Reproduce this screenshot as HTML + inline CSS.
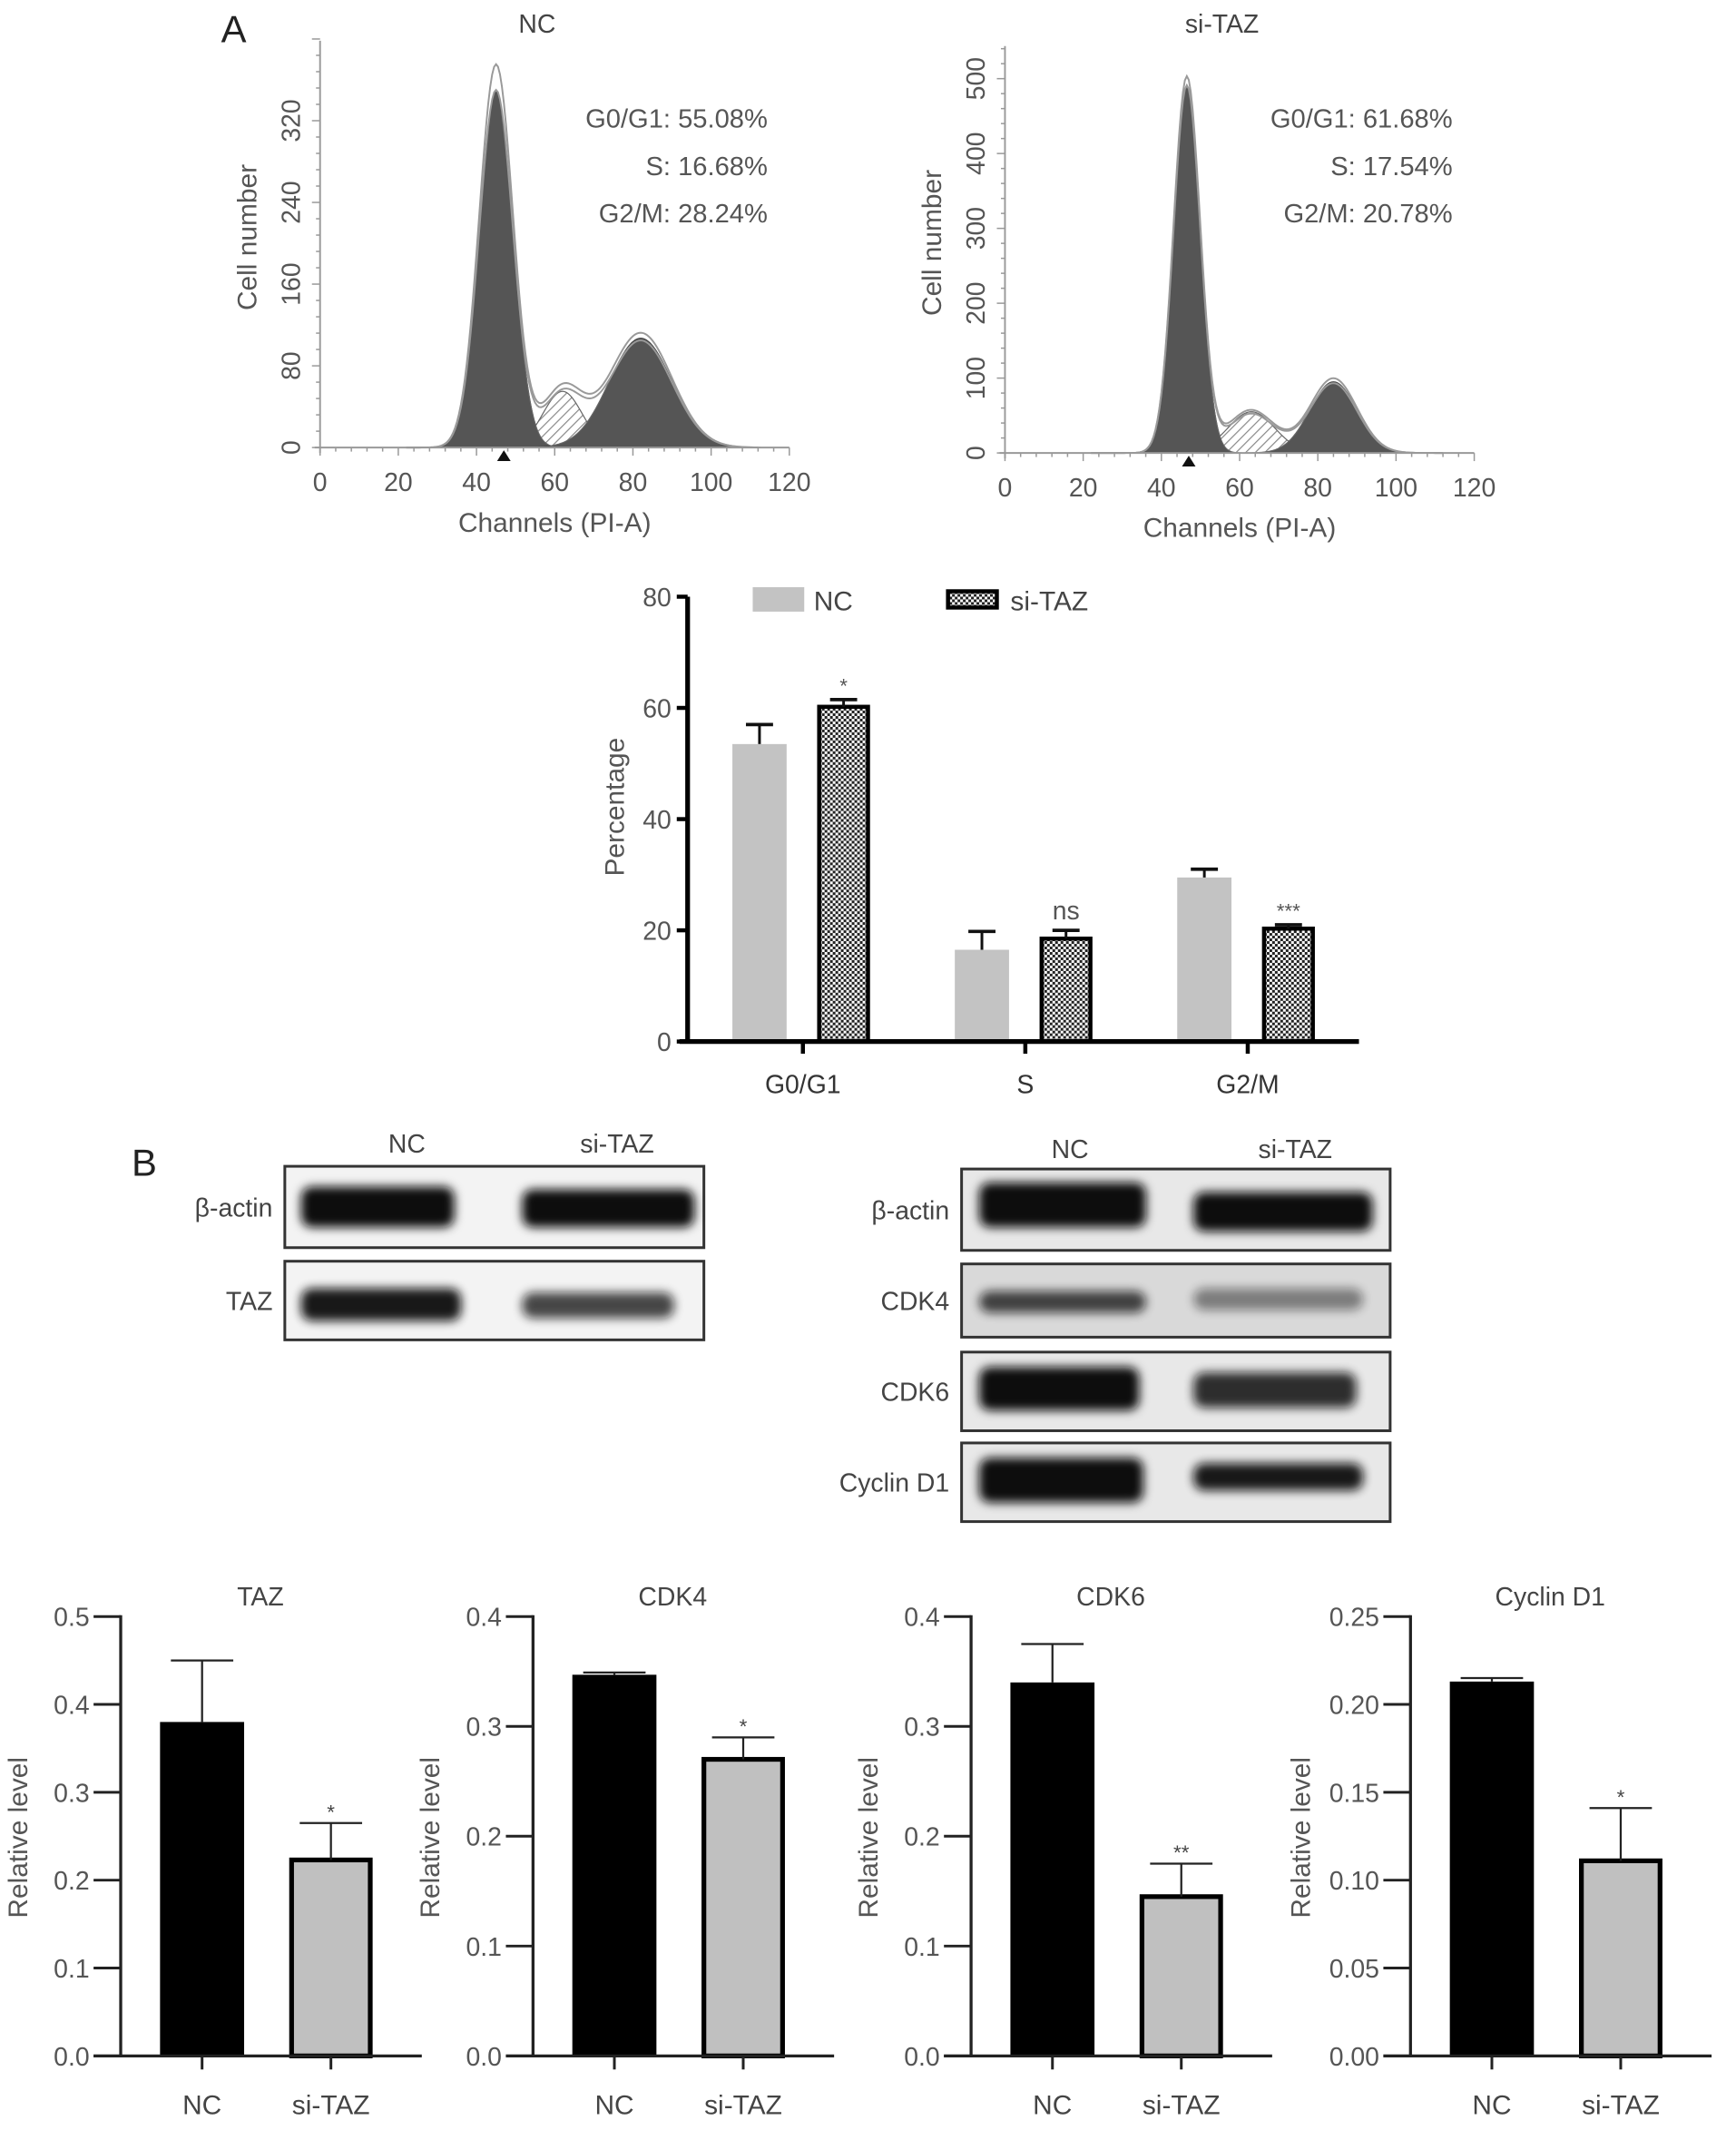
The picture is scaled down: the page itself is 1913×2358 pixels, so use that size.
<!DOCTYPE html>
<html><head><meta charset="utf-8">
<style>
html,body{margin:0;padding:0;background:#fff;}
svg{display:block;font-family:"Liberation Sans",sans-serif;}
</style></head>
<body>
<svg id="fig" width="1913" height="2358" viewBox="0 0 1280 1578" preserveAspectRatio="none" xmlns="http://www.w3.org/2000/svg">
<defs>
<pattern id="hatch" patternUnits="userSpaceOnUse" width="5" height="5" patternTransform="rotate(45)">
<rect width="5" height="5" fill="#fff"/><line x1="0" y1="0" x2="0" y2="5" stroke="#888" stroke-width="1.6"/></pattern>
<pattern id="check" patternUnits="userSpaceOnUse" width="4" height="4">
<rect width="4" height="4" fill="#fff"/><rect width="2" height="2" fill="#222"/><rect x="2" y="2" width="2" height="2" fill="#222"/></pattern>
<filter id="blur" x="-20%" y="-50%" width="140%" height="200%"><feGaussianBlur stdDeviation="3.5"/></filter>
</defs>
<text x="163" y="31" font-size="28" fill="#222">A</text>
<text x="97" y="867" font-size="28" fill="#222">B</text>
<g id="g"></g>
</svg>
<script>
// ---------- Histogram data ----------
const histNames = ['NC', 'si-TAZ'];
const histG1 = [[45, 350, 4.3], [46.5, 490, 3.4]];   // center, height, sigma
const histS = [[62, 55, 5.0], [63, 55, 6.0]];
const histG2 = [[82, 107, 8.0], [84, 95, 6.0]];
const histEnvPeak = [375, 502];
const histYTicks = [[0, 80, 160, 240, 320], [0, 100, 200, 300, 400, 500]];
const histYMax = [400, 540];
const histTexts = [['G0/G1: 55.08%', 'S: 16.68%', 'G2/M: 28.24%'], ['G0/G1: 61.68%', 'S: 17.54%', 'G2/M: 20.78%']];
const histXTicks = [0, 20, 40, 60, 80, 100, 120];

// ---------- Cell cycle bar chart ----------
const phases = ['G0/G1', 'S', 'G2/M'];
const ncPct = [53.5, 16.5, 29.5];
const ncErr = [3.5, 3.3, 1.5];
const siPct = [60.2, 18.5, 20.3];
const siErr = [1.3, 1.5, 0.7];
const sigPct = ['*', 'ns', '***'];
const pctTicks = [0, 20, 40, 60, 80];

// ---------- Relative level charts ----------
const relTitles = ['TAZ', 'CDK4', 'CDK6', 'Cyclin D1'];
const relNC = [0.38, 0.347, 0.34, 0.213];
const relNCErr = [0.07, 0.002, 0.035, 0.002];
const relSi = [0.223, 0.27, 0.145, 0.111];
const relSiErr = [0.042, 0.02, 0.03, 0.03];
const relSig = ['*', '*', '**', '*'];
const relMax = [0.5, 0.4, 0.4, 0.25];
const relTicks = [[0, 0.1, 0.2, 0.3, 0.4, 0.5], [0, 0.1, 0.2, 0.3, 0.4], [0, 0.1, 0.2, 0.3, 0.4], [0, 0.05, 0.1, 0.15, 0.2, 0.25]];
const relTickLabels = [['0.0','0.1','0.2','0.3','0.4','0.5'], ['0.0','0.1','0.2','0.3','0.4'], ['0.0','0.1','0.2','0.3','0.4'], ['0.00','0.05','0.10','0.15','0.20','0.25']];

const NS = 'http://www.w3.org/2000/svg';
const root = document.getElementById('g');
function el(tag, attrs, parent, text) {
  const e = document.createElementNS(NS, tag);
  for (const k in attrs) e.setAttribute(k, attrs[k]);
  if (text !== undefined) e.textContent = text;
  (parent || root).appendChild(e);
  return e;
}
function gauss(x, p) { return p[1] * Math.exp(-0.5 * Math.pow((x - p[0]) / p[2], 2)); }

// ---------- Histograms ----------
const histLayout = [{x0: 236, y0: 330, top: 30, yTop: 89, yTopVal: 320}, {x0: 741, y0: 334, top: 34, yTop: 58, yTopVal: 500}];
histNames.forEach((nm, i) => {
  const L = histLayout[i];
  const g = el('g', {});
  
  
  const sx = v => L.x0 + v * (346 / 120);
  const sy = v => L.y0 - v * ((L.y0 - L.yTop) / L.yTopVal);
  function areaPath(fn, a, b) {
    let d = 'M' + sx(a) + ',' + sy(0);
    for (let x = a; x <= b; x += 0.25) d += ' L' + sx(x).toFixed(2) + ',' + sy(fn(x)).toFixed(2);
    return d + ' L' + sx(b) + ',' + sy(0) + ' Z';
  }
  const fG1 = x => gauss(x, histG1[i]), fS = x => gauss(x, histS[i]), fG2 = x => gauss(x, histG2[i]);
  const a1 = el('path', {d: areaPath(fG1, 25, 70), fill: '#555', stroke: '#444', 'stroke-width': 0.8}, g);
   
  const a2 = el('path', {d: areaPath(fG2, 55, 115), fill: '#555', stroke: '#444', 'stroke-width': 0.8}, g);
   
  let dS = 'M' + sx(50) + ',' + sy(Math.max(fG1(50), fG2(50)));
  for (let x = 50; x <= 78; x += 0.25) dS += ' L' + sx(x).toFixed(2) + ',' + sy(Math.max(fS(x), fG1(x), fG2(x))).toFixed(2);
  for (let x = 78; x >= 50; x -= 0.25) dS += ' L' + sx(x).toFixed(2) + ',' + sy(Math.max(fG1(x), fG2(x))).toFixed(2);
  dS += ' Z';
  const aS = el('path', {d: dS, fill: 'url(#hatch)', stroke: '#666', 'stroke-width': 0.8}, g);
   
  const env = (x, k) => fG1(x) * (k === 0 ? histEnvPeak[i] / histG1[i][1] : 1) + fS(x) * 0.9 + fG2(x) * (k === 0 ? 1.05 : 0.98) + (k === 0 ? 8 : 3) * Math.exp(-0.5 * Math.pow((x - 62) / 6, 2));
  [0, 1].forEach(k => {
    let d = '';
    for (let x = 22; x <= 112; x += 0.5) d += (d ? ' L' : 'M') + sx(x).toFixed(2) + ',' + sy(env(x, k)).toFixed(2);
    const p = el('path', {d: d, fill: 'none', stroke: '#999', 'stroke-width': 1.3}, g);
     
  });
  const ax = el('line', {x1: L.x0, y1: L.top, x2: L.x0, y2: L.y0 + 4, stroke: '#999', 'stroke-width': 1.3}, g);
   
  const axx = el('line', {x1: L.x0 - 4, y1: L.y0, x2: sx(120), y2: L.y0, stroke: '#999', 'stroke-width': 1.3}, g);
   
  for (let v = 0; v <= 120; v += 4) el('line', {x1: sx(v), y1: L.y0, x2: sx(v), y2: L.y0 + (v % 20 === 0 ? 6 : 3), stroke: '#999', 'stroke-width': 1}, g);
  const step = histYTicks[i][1] / 5;
  for (let v = 0; v <= histYMax[i]; v += step) el('line', {x1: L.x0 - ((v % histYTicks[i][1]) === 0 ? 6 : 3), y1: sy(v), x2: L.x0, y2: sy(v), stroke: '#999', 'stroke-width': 1}, g);
  histXTicks.forEach(v => {
    const t = el('text', {x: sx(v), y: L.y0 + 32, 'font-size': 19, fill: '#555', 'text-anchor': 'middle'}, g, String(v));
     
  });
  histYTicks[i].forEach(v => {
    const t = el('text', {x: 0, y: 0, 'font-size': 19, fill: '#555', 'text-anchor': 'middle', transform: 'translate(' + (L.x0 - 15) + ',' + sy(v) + ') rotate(-90)'}, g, String(v));
     
  });
  el('polygon', {points: (sx(47) - 5) + ',' + (L.y0 + 10) + ' ' + (sx(47) + 5) + ',' + (L.y0 + 10) + ' ' + sx(47) + ',' + (L.y0 + 2), fill: '#111'}, g);
  const tt = el('text', {x: L.x0 + 160, y: 24, 'font-size': 19, fill: '#444', 'text-anchor': 'middle'}, g, nm);
   
  const xl = el('text', {x: sx(60), y: L.y0 + 62, 'font-size': 20, fill: '#555', 'text-anchor': 'middle'}, g, 'Channels (PI-A)');
   
  const yl = el('text', {x: 0, y: 0, 'font-size': 20, fill: '#555', 'text-anchor': 'middle', transform: 'translate(' + (L.x0 - 47) + ',' + (L.y0 - 155) + ') rotate(-90)'}, g, 'Cell number');
   
  histTexts[i].forEach((s, j) => {
    const t = el('text', {x: L.x0 + 330, y: 94 + j * 35, 'font-size': 19.5, fill: '#555', 'text-anchor': 'end'}, g, s);
     
  });
});

// ---------- Percentage bar chart ----------
(function () {
  const g = el('g', {});
   
  const X0 = 507, Y0 = 768, k = (768 - 440) / 80;
  const sy = v => Y0 - v * k;
  const catX = i => 592 + i * 164;
  phases.forEach((ph, i) => {
    const c = catX(i);
    const nx = c - 52, ncx = nx + 20;
    const b1 = el('rect', {x: nx, y: sy(ncPct[i]), width: 40, height: Y0 - sy(ncPct[i]), fill: '#c3c3c3'}, g);
     
    el('line', {x1: ncx, y1: sy(ncPct[i]), x2: ncx, y2: sy(ncPct[i] + ncErr[i]), stroke: '#111', 'stroke-width': 2}, g);
    el('line', {x1: ncx - 10, y1: sy(ncPct[i] + ncErr[i]), x2: ncx + 10, y2: sy(ncPct[i] + ncErr[i]), stroke: '#111', 'stroke-width': 2.5}, g);
    const sxs = c + 12, scx = sxs + 18;
    const b2 = el('rect', {x: sxs, y: sy(siPct[i]), width: 36, height: Y0 - sy(siPct[i]), fill: 'url(#check)', stroke: '#000', 'stroke-width': 3}, g);
     
    el('line', {x1: scx, y1: sy(siPct[i]), x2: scx, y2: sy(siPct[i] + siErr[i]), stroke: '#111', 'stroke-width': 2}, g);
    el('line', {x1: scx - 10, y1: sy(siPct[i] + siErr[i]), x2: scx + 10, y2: sy(siPct[i] + siErr[i]), stroke: '#111', 'stroke-width': 2.5}, g);
    const st = el('text', {x: scx, y: sy(siPct[i] + siErr[i]) - (sigPct[i] === 'ns' ? 8 : 5), 'font-size': sigPct[i] === 'ns' ? 19 : 15, fill: '#555', 'text-anchor': 'middle'}, g, sigPct[i]);
     
    el('line', {x1: c, y1: Y0, x2: c, y2: Y0 + 9, stroke: '#000', 'stroke-width': 3}, g);
    const lb = el('text', {x: c, y: Y0 + 38, 'font-size': 19, fill: '#333', 'text-anchor': 'middle'}, g, ph);
     
  });
  const ya = el('line', {x1: X0, y1: 440, x2: X0, y2: Y0 + 1.5, stroke: '#000', 'stroke-width': 3.5}, g);
   
  const xa = el('line', {x1: X0 - 6, y1: Y0, x2: 1002, y2: Y0, stroke: '#000', 'stroke-width': 3.5}, g);
   
  pctTicks.forEach(v => {
    el('line', {x1: X0 - 8, y1: sy(v), x2: X0, y2: sy(v), stroke: '#000', 'stroke-width': 3}, g);
    const t = el('text', {x: X0 - 12, y: sy(v) + 7, 'font-size': 19, fill: '#555', 'text-anchor': 'end'}, g, String(v));
     
  });
  const yl = el('text', {x: 0, y: 0, 'font-size': 20, fill: '#555', 'text-anchor': 'middle', transform: 'translate(460,595) rotate(-90)'}, g, 'Percentage');
   
  const l1 = el('rect', {x: 555, y: 433, width: 38, height: 18, fill: '#c3c3c3'}, g);
   
  const t1 = el('text', {x: 600, y: 450, 'font-size': 20, fill: '#444'}, g, 'NC');
   
  const l2 = el('rect', {x: 699, y: 436, width: 36, height: 12, fill: 'url(#check)', stroke: '#000', 'stroke-width': 3}, g);
   
  const t2 = el('text', {x: 745, y: 450, 'font-size': 20, fill: '#444'}, g, 'si-TAZ');
   
})();

// ---------- Western blots ----------
const blots = [
  {x: 210, w: 309, label: 'β-actin', y: 860, h: 60, bg: '#f3f3f3', bands: [[222, 335, 875, 905, 1], [385, 512, 877, 905, 1]]},
  {x: 210, w: 309, label: 'TAZ', y: 930, h: 58, bg: '#f3f3f3', bands: [[222, 340, 950, 974, 0.95], [385, 497, 953, 972, 0.75]]},
  {x: 709, w: 316, label: 'β-actin', y: 862, h: 60, bg: '#e8e8e8', bands: [[722, 845, 872, 905, 1], [880, 1012, 879, 908, 1]]},
  {x: 709, w: 316, label: 'CDK4', y: 932, h: 54, bg: '#d9d9d9', bands: [[722, 845, 952, 968, 0.75], [880, 1005, 950, 966, 0.45]]},
  {x: 709, w: 316, label: 'CDK6', y: 997, h: 58, bg: '#e8e8e8', bands: [[722, 840, 1008, 1040, 1], [880, 1000, 1012, 1038, 0.85]]},
  {x: 709, w: 316, label: 'Cyclin D1', y: 1064, h: 58, bg: '#e8e8e8', bands: [[722, 843, 1075, 1108, 1], [880, 1005, 1079, 1099, 0.95]]}
];
blots.forEach(b => {
  const g = el('g', {});
  
  
  el('rect', {x: b.x, y: b.y, width: b.w, height: b.h, fill: b.bg, stroke: '#333', 'stroke-width': 2}, g);
  b.bands.forEach(d => {
    const r = el('rect', {x: d[0], y: d[2], width: d[1] - d[0], height: d[3] - d[2], rx: 8, fill: '#111', opacity: d[4], filter: 'url(#blur)'}, g);
     
  });
  const t = el('text', {x: b.x - 9, y: b.y + b.h / 2 + 7, 'font-size': 19, fill: '#444', 'text-anchor': 'end'}, g, b.label);
   
});
[[300, 850, 'NC'], [455, 850, 'si-TAZ'], [789, 854, 'NC'], [955, 854, 'si-TAZ']].forEach(h => {
  const t = el('text', {x: h[0], y: h[1], 'font-size': 19, fill: '#444', 'text-anchor': 'middle'}, root, h[2]);
   
});

// ---------- Relative level charts ----------
const relAxisX = [89, 393, 716, 1040];
relTitles.forEach((title, i) => {
  const g = el('g', {});
  
  
  const X0 = relAxisX[i], Y0 = 1516, Ytop = 1192;
  const sy = v => Y0 - v / relMax[i] * (Y0 - Ytop);
  const c1 = X0 + 60, c2 = X0 + 155, bw = 62;
  const b1 = el('rect', {x: c1 - bw / 2, y: sy(relNC[i]), width: bw, height: Y0 - sy(relNC[i]), fill: '#000'}, g);
   
  el('line', {x1: c1, y1: sy(relNC[i]), x2: c1, y2: sy(relNC[i] + relNCErr[i]), stroke: '#222', 'stroke-width': 1.5}, g);
  el('line', {x1: c1 - 23, y1: sy(relNC[i] + relNCErr[i]), x2: c1 + 23, y2: sy(relNC[i] + relNCErr[i]), stroke: '#222', 'stroke-width': 1.5}, g);
  const b2 = el('rect', {x: c2 - bw / 2 + 2, y: sy(relSi[i]), width: bw - 4, height: Y0 - sy(relSi[i]), fill: '#c0c0c0', stroke: '#000', 'stroke-width': 3.5}, g);
   
  el('line', {x1: c2, y1: sy(relSi[i]), x2: c2, y2: sy(relSi[i] + relSiErr[i]), stroke: '#222', 'stroke-width': 1.5}, g);
  el('line', {x1: c2 - 23, y1: sy(relSi[i] + relSiErr[i]), x2: c2 + 23, y2: sy(relSi[i] + relSiErr[i]), stroke: '#222', 'stroke-width': 1.5}, g);
  const st = el('text', {x: c2, y: sy(relSi[i] + relSiErr[i]) - 3, 'font-size': 15, fill: '#444', 'text-anchor': 'middle'}, g, relSig[i]);
   
  const ya = el('line', {x1: X0, y1: Ytop - 1, x2: X0, y2: Y0 + 1, stroke: '#222', 'stroke-width': 2.2}, g);
   
  const xa = el('line', {x1: X0 - 20, y1: Y0, x2: X0 + 222, y2: Y0, stroke: '#222', 'stroke-width': 2.2}, g);
   
  relTicks[i].forEach((v, j) => {
    el('line', {x1: X0 - 20, y1: sy(v), x2: X0, y2: sy(v), stroke: '#222', 'stroke-width': 2}, g);
    const t = el('text', {x: X0 - 23, y: sy(v) + 7, 'font-size': 19, fill: '#555', 'text-anchor': 'end'}, g, relTickLabels[i][j]);
     
  });
  [[c1, 'NC'], [c2, 'si-TAZ']].forEach(p => {
    el('line', {x1: p[0], y1: Y0, x2: p[0], y2: Y0 + 10, stroke: '#222', 'stroke-width': 2}, g);
    const t = el('text', {x: p[0], y: Y0 + 43, 'font-size': 20, fill: '#444', 'text-anchor': 'middle'}, g, p[1]);
     
  });
  const tt = el('text', {x: X0 + 103, y: 1184, 'font-size': 19, fill: '#444', 'text-anchor': 'middle'}, g, title);
   
  const yl = el('text', {x: 0, y: 0, 'font-size': 20, fill: '#555', 'text-anchor': 'middle', transform: 'translate(' + (X0 - 69 + (i === 3 ? -5 : 0)) + ',1355) rotate(-90)'}, g, 'Relative level');
   
});
</script>
</body></html>
